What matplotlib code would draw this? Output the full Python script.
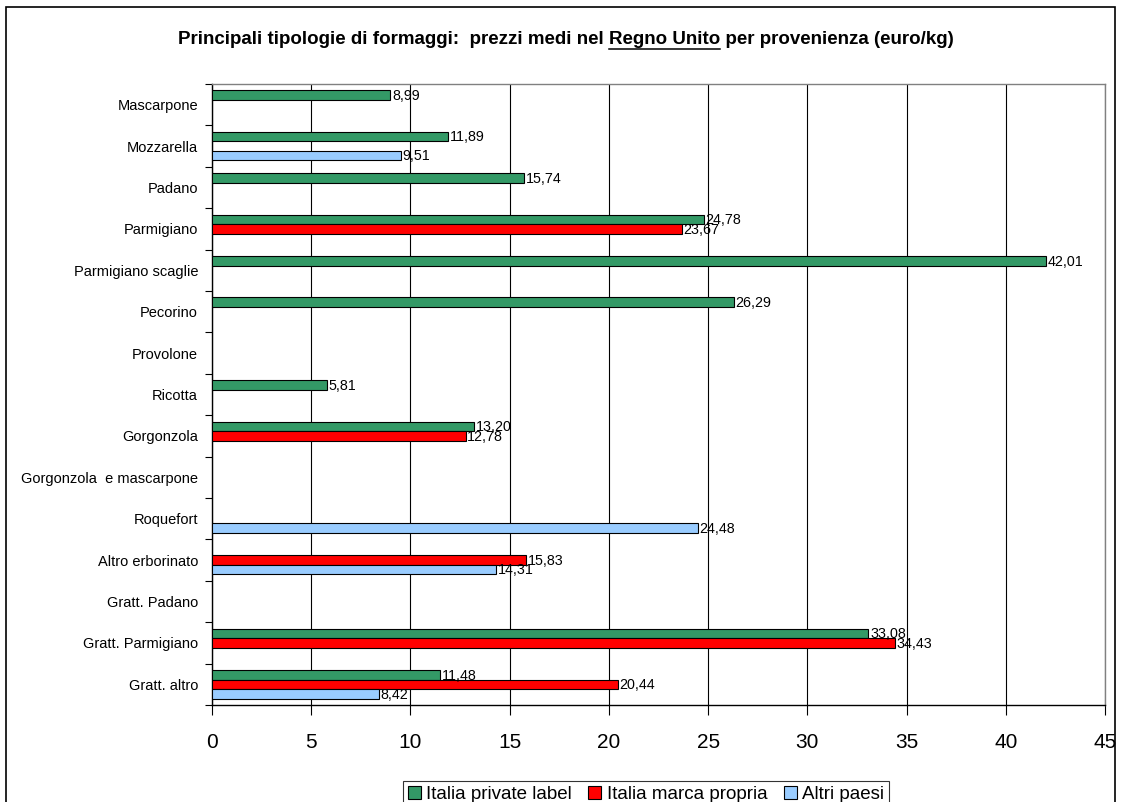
import numpy as np
import matplotlib
matplotlib.use("Agg")
import matplotlib.pyplot as plt
from matplotlib.patches import Rectangle, Patch
from matplotlib.lines import Line2D

plt.rcParams['font.family'] = ['Liberation Sans', 'DejaVu Sans']

categories = [
    "Mascarpone", "Mozzarella", "Padano", "Parmigiano", "Parmigiano scaglie",
    "Pecorino", "Provolone", "Ricotta", "Gorgonzola", "Gorgonzola  e mascarpone",
    "Roquefort", "Altro erborinato", "Gratt. Padano", "Gratt. Parmigiano", "Gratt. altro",
]
private_label = [8.99, 11.89, 15.74, 24.78, 42.01, 26.29, None, 5.81, 13.20, None,
                 None, None, None, 33.08, 11.48]
marca_propria = [None, None, None, 23.67, None, None, None, None, 12.78, None,
                 None, 15.83, None, 34.43, 20.44]
altri_paesi = [None, 9.51, None, None, None, None, None, None, None, None,
               24.48, 14.31, None, None, 8.42]

series_names = ["Italia private label", "Italia marca propria", "Altri paesi"]
series_values = [private_label, marca_propria, altri_paesi]
series_colors = ["#339966", "#FF0000", "#99CCFF"]
x_ticks = [0, 5, 10, 15, 20, 25, 30, 35, 40, 45]

W, H = 1121, 802
fig = plt.figure(figsize=(W / 100, H / 100), dpi=100)
ax = fig.add_axes([212 / W, 1 - 705 / H, (1105 - 212) / W, (705 - 84) / H])

n = len(categories)
y = np.arange(n)
bar_h = 0.23
for k, (vals, col) in enumerate(zip(series_values, series_colors)):
    off = (k - 1) * bar_h
    for i, v in enumerate(vals):
        if v is None:
            continue
        ax.barh(y[i] + off, v, height=bar_h, color=col, edgecolor="black",
                linewidth=0.8, zorder=3)
        ax.text(v + 0.08, y[i] + off + 0.02, f"{v:.2f}".replace(".", ","),
                fontsize=10.3, va="center", ha="left", zorder=4)

ax.set_xlim(0, 45)
ax.set_ylim(n - 0.5, -0.5)
ax.set_xticks(x_ticks)
ax.set_xticklabels([str(t) for t in x_ticks], fontsize=15)
ax.tick_params(axis="x", length=7, width=0.8, pad=13, direction="out")

ax.set_yticks(np.arange(-0.5, n, 1.0))
ax.set_yticklabels([])
ax.set_yticks(y, minor=True)
ax.set_yticklabels(categories, minor=True, fontsize=10.5)
ax.tick_params(axis="y", which="major", length=5, width=0.8, direction="out")
ax.tick_params(axis="y", which="minor", length=0, pad=10)

ax.grid(axis="x", color="black", linewidth=0.8, zorder=0)
ax.set_axisbelow(True)
for side in ["left", "bottom"]:
    ax.spines[side].set_color("black")
    ax.spines[side].set_linewidth(1.0)
for side in ["top", "right"]:
    ax.spines[side].set_color("#808080")
    ax.spines[side].set_linewidth(1.0)

# Title with the country underlined
pieces = ["Principali tipologie di formaggi:  prezzi medi nel ", "Regno Unito",
          " per provenienza (euro/kg)"]
renderer = fig.canvas.get_renderer()
title_kw = dict(fontsize=13.5, fontweight="bold", va="center", ha="left")
full = fig.text(0, 0, "".join(pieces), **title_kw)
full_w = full.get_window_extent(renderer).width
full.remove()
pre = fig.text(0, 0, pieces[0].rstrip() + "x", **title_kw)
xw = fig.text(0, 0, "x", **title_kw)
sp = fig.text(0, 0, "x x", **title_kw)
pre_w = pre.get_window_extent(renderer).width - xw.get_window_extent(renderer).width
space_w = sp.get_window_extent(renderer).width - 2 * xw.get_window_extent(renderer).width
pre.remove(); xw.remove(); sp.remove()
mid = fig.text(0, 0, pieces[1], **title_kw)
mid_w = mid.get_window_extent(renderer).width
mid.remove()

cx, cy = 566, 40
x0 = cx - full_w / 2
fig.text(x0 / W, 1 - cy / H, "".join(pieces), **title_kw)
ux0 = x0 + pre_w + space_w
fig.add_artist(Line2D([ux0 / W, (ux0 + mid_w) / W],
                      [1 - (cy + 9) / H, 1 - (cy + 9) / H],
                      color="black", linewidth=1.1, transform=fig.transFigure))

# Outer frame
fig.add_artist(Rectangle((6 / W, -0.05), (1115 - 6) / W, 1 - 7 / H + 0.05,
                         transform=fig.transFigure, fill=False,
                         edgecolor="black", linewidth=1.2))

handles = [Patch(facecolor=c, edgecolor="black", linewidth=0.8) for c in series_colors]
leg = fig.legend(handles, series_names, loc="upper center",
                 bbox_to_anchor=(646 / W, 1 - 781 / H), ncol=3, fontsize=13.5,
                 frameon=True, fancybox=False, edgecolor="black",
                 handlelength=0.7, handleheight=0.7, handletextpad=0.3,
                 columnspacing=0.85, borderpad=0.25, borderaxespad=0)
leg.get_frame().set_linewidth(0.8)

fig.savefig("out.png", dpi=100)
